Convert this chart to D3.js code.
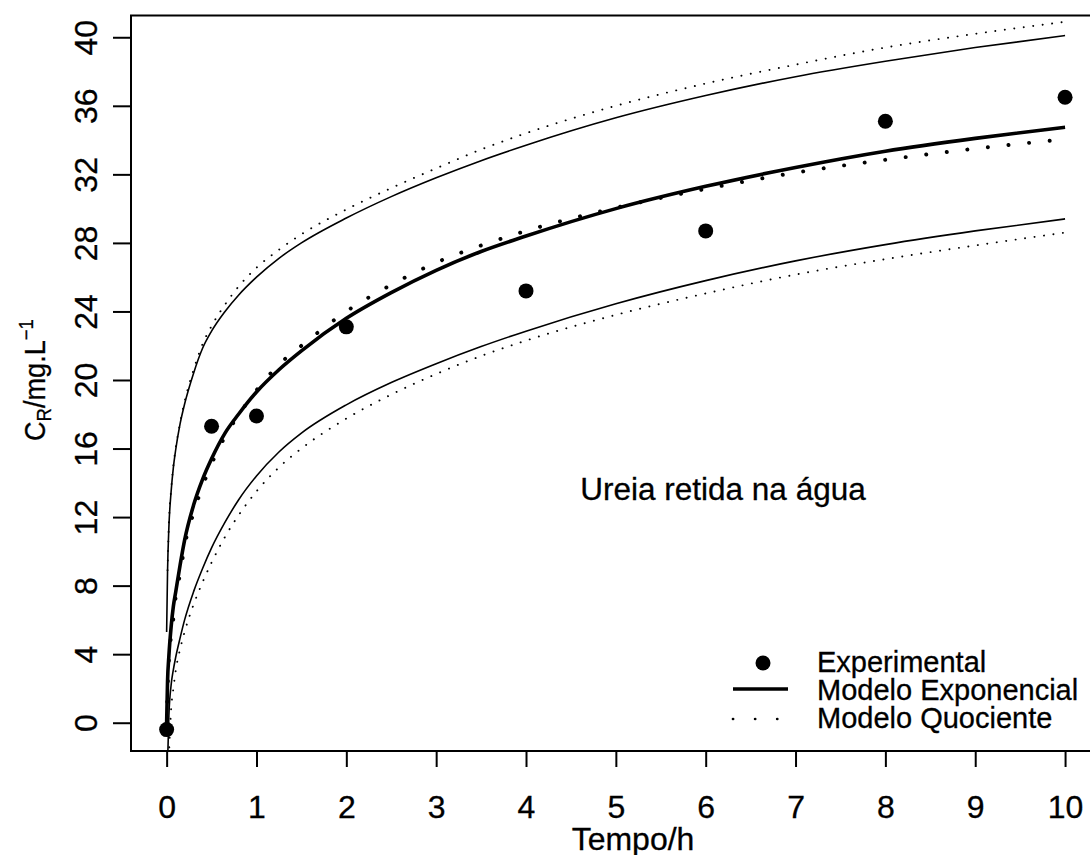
<!DOCTYPE html>
<html>
<head>
<meta charset="utf-8">
<script src="https://cdn.jsdelivr.net/npm/d3@7"></script>
<style>
  html, body { margin: 0; padding: 0; background: #fff; }
  svg { display: block; }
  text { font-family: "Liberation Sans", Arial, Helvetica, sans-serif; fill: #000; stroke: #000; stroke-width: 0.3; }
</style>
</head>
<body>
<svg id="chart" width="1090" height="855"></svg>
<script>
// Measured urea concentration retained in the water
const timeH = [0, 0.5, 1, 2, 4, 6, 8, 10];
const experimental = [-0.4, 17.3, 17.9, 23.1, 25.2, 28.7, 35.1, 36.5];

// Time grid on which the fitted curves and their bands are given
const tGrid = [0, 0.01, 0.025, 0.05, 0.075, 0.1, 0.15, 0.2, 0.3, 0.4, 0.5, 0.65, 0.8,
               1, 1.25, 1.5, 2, 2.5, 3, 3.5, 4, 5, 6, 7, 8, 9, 10];

// Exponential model: fit and band
const expFit   = [0, 2.4, 3.9, 5.6, 6.8, 7.6, 9.2, 10.65, 12.7, 14.2, 15.4, 16.9, 18.0,
                  19.3, 20.6, 21.7, 23.6, 25.1, 26.4, 27.5, 28.4, 30.0, 31.3, 32.4, 33.35, 34.1, 34.75];
const expUpper = [5.3, 8.8, 11.4, 13.5, 14.9, 15.9, 17.45, 18.6, 20.4, 21.85, 22.85, 24.0, 24.95,
                  26.0, 27.1, 28.0, 29.45, 30.7, 31.8, 32.8, 33.7, 35.3, 36.6, 37.7, 38.6, 39.4, 40.1];
const expLower = [null, -2.4, 0.4, 2.2, 3.1, 3.8, 4.95, 6.0, 7.65, 9.0, 10.2, 11.7, 13.0,
                  14.4, 15.8, 16.9, 18.55, 19.85, 20.95, 21.95, 22.85, 24.45, 25.8, 26.95, 27.9, 28.7, 29.4];

// Quotient model: fit and band
const quoFit   = [0, 1.8, 3.6, 5.1, 6.1, 7.3, 8.7, 10.3, 12.25, 13.8, 15.1, 16.7, 17.95,
                  19.4, 20.9, 22.0, 24.0, 25.55, 26.85, 27.85, 28.7, 30.05, 31.15, 32.1, 32.85, 33.5, 34.05];
const quoUpper = [null, 8.9, 11.6, 13.6, 15.0, 16.0, 17.5, 18.75, 20.6, 22.1, 23.15, 24.4, 25.45,
                  26.55, 27.6, 28.5, 29.95, 31.2, 32.35, 33.45, 34.4, 36.0, 37.3, 38.4, 39.4, 40.2, 40.9];
const quoLower = [null, null, -2.0, 0.8, 2.0, 3.0, 4.3, 5.3, 6.9, 8.2, 9.35, 10.85, 12.1,
                  13.5, 14.9, 16.0, 17.75, 19.15, 20.35, 21.4, 22.3, 23.8, 25.05, 26.15, 27.05, 27.85, 28.6];

const xTicks = [0, 1, 2, 3, 4, 5, 6, 7, 8, 9, 10];
const yTicks = [0, 4, 8, 12, 16, 20, 24, 28, 32, 36, 40];

const legendLabels = ["Experimental", "Modelo Exponencial", "Modelo Quociente"];

const svg = d3.select("#chart");

const plot = { left: 131, right: 1101, top: 15.5, bottom: 751 };

const x = d3.scaleLinear().domain([-0.4, 10.4]).range([130.7, 1101]);
const y = d3.scaleLinear().domain([-1.65, 41.27]).range([plot.bottom, plot.top]);

svg.append("rect").attr("width", 1090).attr("height", 855).attr("fill", "#fff");

svg.append("defs").append("clipPath").attr("id", "plotClip")
  .append("rect")
  .attr("x", plot.left).attr("y", plot.top)
  .attr("width", plot.right - plot.left).attr("height", plot.bottom - plot.top);

const curves = svg.append("g").attr("clip-path", "url(#plotClip)");

const line = d3.line()
  .defined(d => d[1] !== null)
  .x(d => x(d[0]))
  .y(d => y(d[1]))
  .curve(d3.curveMonotoneX);

const pairs = vals => tGrid.map((t, i) => [t, vals[i]]);

const styles = {
  thinSolid:  { width: 1.6, dash: null, cap: "butt" },
  thinDot:    { width: 1.9, dash: "0.1 9.45", cap: "round" },
  thickSolid: { width: 3.6, dash: null, cap: "butt" },
  thickDot:   { width: 3.9, dash: "0.1 20.6", cap: "round" }
};

const series = [
  { vals: expUpper, s: styles.thinSolid },
  { vals: expLower, s: styles.thinSolid },
  { vals: quoUpper, s: styles.thinDot },
  { vals: quoLower, s: styles.thinDot },
  { vals: expFit,   s: styles.thickSolid },
  { vals: quoFit,   s: styles.thickDot }
];

series.forEach(({ vals, s }) => {
  curves.append("path")
    .attr("d", line(pairs(vals)))
    .attr("fill", "none")
    .attr("stroke", "#000")
    .attr("stroke-width", s.width)
    .attr("stroke-linecap", s.cap)
    .attr("stroke-linejoin", "round")
    .attr("stroke-dasharray", s.dash);
});

// experimental points
curves.selectAll("circle.obs")
  .data(timeH.map((t, i) => [t, experimental[i]]))
  .join("circle")
  .attr("class", "obs")
  .attr("cx", d => x(d[0]))
  .attr("cy", d => y(d[1]))
  .attr("r", 7.5)
  .attr("fill", "#000");

// frame
svg.append("rect")
  .attr("x", plot.left).attr("y", plot.top)
  .attr("width", plot.right - plot.left).attr("height", plot.bottom - plot.top)
  .attr("fill", "none").attr("stroke", "#000").attr("stroke-width", 2);

// x axis
const xAxis = svg.append("g")
  .attr("transform", `translate(0,${plot.bottom})`)
  .call(d3.axisBottom(x).tickValues(xTicks).tickSize(16).tickFormat(d3.format("d")));
xAxis.select(".domain").remove();
xAxis.selectAll(".tick line").attr("stroke", "#000").attr("stroke-width", 2);
xAxis.selectAll(".tick text")
  .attr("y", 67).attr("dy", null)
  .attr("font-size", 32)
  .attr("font-family", "\"Liberation Sans\", Arial, sans-serif")
  .attr("fill", "#000");

// y axis with labels turned parallel to the axis
const yAxis = svg.append("g")
  .attr("transform", `translate(${plot.left},0)`)
  .call(d3.axisLeft(y).tickValues(yTicks).tickSize(18).tickFormat(d3.format("d")));
yAxis.select(".domain").remove();
yAxis.selectAll(".tick line").attr("stroke", "#000").attr("stroke-width", 2);
yAxis.selectAll(".tick text")
  .attr("x", null).attr("dy", null)
  .attr("transform", "translate(-34,0) rotate(-90)")
  .attr("text-anchor", "middle")
  .attr("font-size", 32)
  .attr("font-family", "\"Liberation Sans\", Arial, sans-serif")
  .attr("fill", "#000");

// axis titles
svg.append("text")
  .attr("x", 633).attr("y", 850)
  .attr("text-anchor", "middle")
  .attr("font-size", 32)
  .text("Tempo/h");

const yTitle = svg.append("text")
  .attr("transform", "translate(45,380) rotate(-90)")
  .attr("text-anchor", "middle")
  .attr("font-size", 29)
  .attr("textLength", 122)
  .attr("lengthAdjust", "spacingAndGlyphs");
yTitle.append("tspan").text("C");
yTitle.append("tspan").attr("font-size", 20).attr("dy", 6).text("R");
yTitle.append("tspan").attr("dy", -6).text("/mg.L");
yTitle.append("tspan").attr("font-size", 20).attr("dy", -12).text("\u22121");

// annotation
svg.append("text")
  .attr("x", 723).attr("y", 500)
  .attr("text-anchor", "middle")
  .attr("font-size", 31.5)
  .text("Ureia retida na \u00e1gua");

// legend
const legend = svg.append("g");
const rowY = [663, 689, 719];
legend.append("circle").attr("cx", 763).attr("cy", rowY[0]).attr("r", 7.5).attr("fill", "#000");
legend.append("line")
  .attr("x1", 733).attr("x2", 788).attr("y1", rowY[1]).attr("y2", rowY[1])
  .attr("stroke", "#000").attr("stroke-width", 3.6);
legend.append("line")
  .attr("x1", 733).attr("x2", 788).attr("y1", rowY[2]).attr("y2", rowY[2])
  .attr("stroke", "#000").attr("stroke-width", 2.7)
  .attr("stroke-linecap", "round").attr("stroke-dasharray", "0.1 22");
legend.selectAll("text.lab")
  .data(legendLabels)
  .join("text")
  .attr("class", "lab")
  .attr("x", 817)
  .attr("y", (d, i) => [672, 700, 727.5][i])
  .attr("font-size", 29)
  .text(d => d);
</script>
</body>
</html>
